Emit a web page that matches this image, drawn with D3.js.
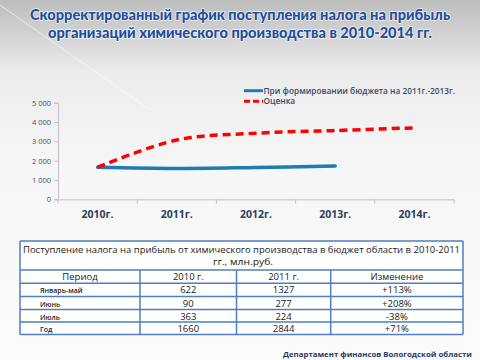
<!DOCTYPE html>
<html><head><meta charset="utf-8">
<script src="https://cdn.jsdelivr.net/npm/d3@7/dist/d3.min.js"></script>
<style>body{margin:0;padding:0;overflow:hidden}svg{display:block}</style>
</head><body>
<script>
const years = ["2010г.","2011г.","2012г.","2013г.","2014г."];
const budget = [1660, 1600, 1650, 1720];
const estimate = [1660, 3070, 3420, 3560, 3700];
const yTicks = [0,1000,2000,3000,4000,5000];
const seriesNames = ["При формировании бюджета на 2011г.-2013г.","Оценка"];
const tableHeader = ["Период","2010 г.","2011 г.","Изменение"];
const periods = ["Январь-май","Июнь","Июль","Год"];
const v2010 = [622, 90, 363, 1660];
const v2011 = [1327, 277, 224, 2844];
const change = ["+113%","+208%","-38%","+71%"];

const W=480,H=360;
const svg=d3.select("body").append("svg").attr("width",W).attr("height",H);
const defs=svg.append("defs");
const g=defs.append("linearGradient").attr("id","bg").attr("x1",0).attr("y1",0).attr("x2",0).attr("y2",1);
g.append("stop").attr("offset",0).attr("stop-color","#bcbcbc");
g.append("stop").attr("offset",0.2).attr("stop-color","#ececec");
g.append("stop").attr("offset",0.45).attr("stop-color","#f6f6f6");
g.append("stop").attr("offset",1).attr("stop-color","#fbfbfb");
svg.append("rect").attr("width",W).attr("height",H).attr("fill","url(#bg)");
svg.append("line").attr("x1",0).attr("y1",5).attr("x2",150).attr("y2",110).attr("stroke","#ffffff").attr("stroke-opacity",0.6).attr("stroke-width",1);

// title
const title=["Скорректированный график поступления налога на прибыль","организаций химического производства в 2010-2014 гг."];
const tl=[420,384];
svg.selectAll("text.title").data(title).enter().append("text")
  .attr("x",W/2).attr("y",(d,i)=>20+i*17.5).attr("text-anchor","middle")
  .attr("font-family","Lato, 'Open Sans', sans-serif").attr("font-weight","900").attr("font-size",15.5)
  .attr("textLength",(d,i)=>tl[i]).attr("lengthAdjust","spacingAndGlyphs")
  .attr("fill","#1f4e9c").attr("stroke","#ffffff").attr("stroke-opacity",0.8).attr("stroke-width",1.6).attr("paint-order","stroke").attr("stroke-linejoin","round")
  .text(d=>d);

// chart
const x=d3.scaleBand().domain(years).range([58,454]).padding(0);
const y=d3.scaleLinear().domain([0,5000]).range([199.3,102.7]);
const cx=d=>x(d)+x.bandwidth()/2;

const yAx=svg.append("g").attr("transform","translate(58,0)")
  .call(d3.axisLeft(y).tickValues(yTicks).tickSize(4).tickFormat(d=>d3.format(",")(d).replace(","," ")));
yAx.select(".domain").attr("stroke","#c0c0c0");
yAx.selectAll(".tick line").attr("stroke","#c0c0c0");
yAx.selectAll(".tick text").attr("font-family","'Open Sans', sans-serif").attr("font-size",7.5).attr("fill","#44546a");

const xAx=svg.append("g").attr("transform","translate(0,199.3)")
  .call(d3.axisBottom(x).tickSize(0).tickPadding(11));
xAx.select(".domain").attr("stroke","#c0c0c0");
xAx.selectAll(".tick text").attr("font-family","'Open Sans', sans-serif").attr("font-weight","bold").attr("font-size",10.5).attr("fill","#2d3f5e");
const bounds=[...years.map(d=>x(d)),454];
svg.selectAll("line.xt").data(bounds).enter().append("line")
  .attr("x1",d=>d).attr("x2",d=>d).attr("y1",199.3).attr("y2",203.5).attr("stroke","#c0c0c0");

const line=d3.line().x((d,i)=>cx(years[i])).y(d=>y(d)).curve(d3.curveCatmullRom.alpha(0.5));
svg.append("path").attr("d",line(budget)).attr("fill","none").attr("stroke","#1f7bb3").attr("stroke-width",3.5).attr("stroke-linecap","round");
svg.append("path").attr("d",line(estimate)).attr("fill","none").attr("stroke","#ff0000").attr("stroke-width",3.5).attr("stroke-dasharray","8,5");

// legend
const lg=svg.append("g");
const lcol=["#1f7bb3","#ff0000"], ldash=[null,"6,3"];
seriesNames.forEach((s,i)=>{
  const yy=90.7+i*10.6;
  lg.append("line").attr("x1",244).attr("x2",263).attr("y1",yy).attr("y2",yy).attr("stroke",lcol[i]).attr("stroke-width",3).attr("stroke-dasharray",ldash[i]);
  lg.append("text").attr("x",263.5).attr("y",yy+3).attr("font-family","'Open Sans', sans-serif").attr("font-size",8.3).attr("font-weight","600").attr("fill","#3a4a66").text(s);
});

// table
const tx=[20,140,236.5,330.7,463];
const ty=[241,270,283.3,296.5,309.5,322,334.5];
const tg=svg.append("g");
tg.append("rect").attr("x",20).attr("y",241).attr("width",443).attr("height",93.5).attr("fill","#ffffff");
const tc="#4f7fbd";
ty.forEach(v=>tg.append("line").attr("x1",20).attr("x2",463).attr("y1",v).attr("y2",v).attr("stroke",tc).attr("stroke-width",1.5));
tx.forEach((v,i)=>tg.append("line").attr("x1",v).attr("x2",v).attr("y1",(i==0||i==4)?241:270).attr("y2",334.5).attr("stroke",tc).attr("stroke-width",1.5));
const tf="'Open Sans', sans-serif";
tg.append("text").attr("x",241.5).attr("y",252.5).attr("text-anchor","middle").attr("font-family",tf).attr("font-size",9.5).attr("fill","#1a1a1a")
  .attr("textLength",437).attr("lengthAdjust","spacingAndGlyphs").text("Поступление налога на прибыль от химического производства в бюджет области в  2010-2011");
tg.append("text").attr("x",243).attr("y",265).attr("text-anchor","middle").attr("font-family",tf).attr("font-size",9.5).attr("fill","#1a1a1a")
  .attr("textLength",60).attr("lengthAdjust","spacingAndGlyphs").text("гг., млн.руб.");
const colC=[80,188.3,283.6,396.9];
tableHeader.forEach((h,i)=>tg.append("text").attr("x",colC[i]).attr("y",280.3).attr("text-anchor","middle").attr("font-family",tf).attr("font-size",9.5).attr("fill","#1a1a1a").text(h));
periods.forEach((p,r)=>{
  const by=ty[r+2]+10;
  tg.append("text").attr("x",40).attr("y",by).attr("font-family",tf).attr("font-size",7).attr("font-weight","600").attr("fill","#1a1a1a").text(p);
  [v2010[r],v2011[r],change[r]].forEach((v,c)=>tg.append("text").attr("x",colC[c+1]).attr("y",by).attr("text-anchor","middle").attr("font-family",tf).attr("font-size",9.5).attr("fill","#1a1a1a").text(v));
});

// footer
svg.append("text").attr("x",472).attr("y",357).attr("text-anchor","end").attr("font-family","'Open Sans', sans-serif").attr("font-weight","bold").attr("font-size",7.5)
  .attr("textLength",189).attr("lengthAdjust","spacingAndGlyphs").attr("fill","#2a3a6a").text("Департамент  финансов Вологодской области");
</script>
</body></html>
